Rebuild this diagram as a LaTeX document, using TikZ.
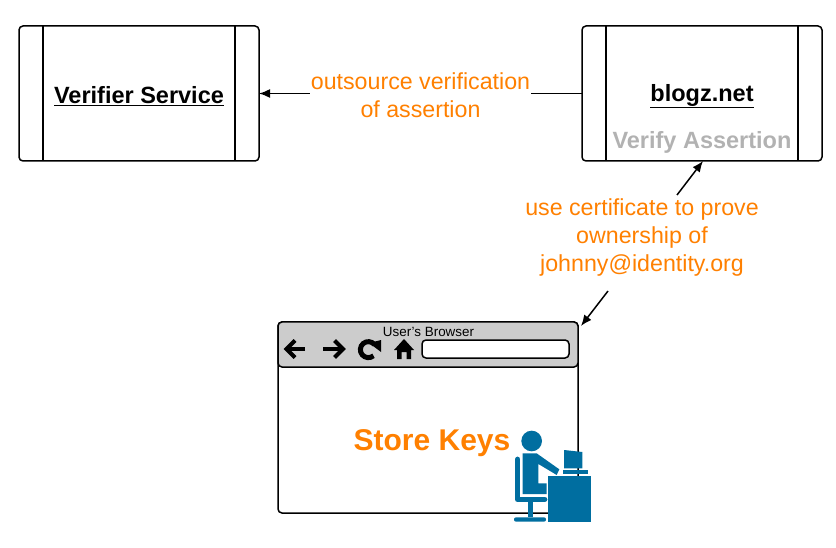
\documentclass[tikz,border=0pt]{standalone}
\usepackage{fontspec}
\setmainfont{Liberation Sans}
\usetikzlibrary{positioning}
\usetikzlibrary{arrows.meta}
\definecolor{labelorange}{HTML}{FF8000}
\definecolor{toolgray}{HTML}{CCCCCC}
\definecolor{iconblue}{HTML}{006EA0}
\tikzset{
  procbox/.style={draw, line width=1.5pt, rounded corners=4pt, minimum width=240pt, minimum height=135pt, inner sep=0pt, outer sep=0pt},
  divider/.style={line width=1.5pt},
  link/.style={-{Latex[length=11pt,width=9pt]}, line width=1.5pt},
  note/.style={text=labelorange, fill=white, font=\fontsize{23.2}{28}\selectfont, align=center, inner xsep=0.5pt, inner ysep=2pt},
  boxtitle/.style={font=\fontsize{23.5}{26}\selectfont\bfseries},
  navicon/.style={line width=4pt, miter limit=10}
}
\begin{document}
\begin{tikzpicture}[x=1pt,y=-1pt]
\useasboundingbox (0,0) rectangle (836,548);
% service boxes
\node[procbox] (verifier) at (139,93.5) {};
\draw[divider] (43,26)--(43,161);
\draw[divider] (235,26)--(235,161);
\node[boxtitle] (verifiertitle) at (139,96) {\underline{Verifier Service}};
\node[procbox] (blogz) at (702,93.5) {};
\draw[divider] (606,26)--(606,161);
\draw[divider] (798,26)--(798,161);
\node[boxtitle] (blogztitle) at (702,96) {\underline{blogz.net}};
\node[boxtitle, text=black!30] (verify) at (702,142) {Verify Assertion};
% browser
\node[procbox, minimum width=300pt, minimum height=191pt] (browser) at (428,417.5) {};
\fill[toolgray, draw=black, line width=1.5pt, rounded corners=4pt] (278,367)--(278,322)--(578,322)--(578,367)--cycle;
\node[font=\fontsize{13.4}{14}\selectfont] (browsertitle) at (428.5,332) {User's Browser};
\node[draw, line width=1.5pt, fill=white, rounded corners=4pt, minimum width=147pt, minimum height=18pt, inner sep=0pt] (urlbar) at (495.5,349) {};
% toolbar icons
\draw[navicon] (305,349)--(287,349);
\draw[navicon] (295,340.5)--(286.5,349)--(295,357.5);
\draw[navicon] (323,349)--(342,349);
\draw[navicon] (334.5,340.5)--(343,349)--(334.5,357.5);
\draw[line width=5pt] (374.5,344.5) arc (-40:-310:8);
\fill (381,340)--(381,352)--(369,343)--cycle;
\fill (404,339)--(414,350)--(411,350)--(411,359)--(406.5,359)--(406.5,352)--(401.5,352)--(401.5,359)--(397,359)--(397,350)--(394,350)--cycle;
\node[font=\fontsize{30}{32}\selectfont\bfseries, text=labelorange] (storekeys) at (432,443) {Store Keys};
% person at desk
\begin{scope}[shift={(500,420)}, x=1/3*1pt, y=-1/3*1pt, iconblue]
\fill (95,63) circle(31);
\fill (68,100)--(110,100)--(178,148)--(170,165)--(115,132)--(115,190)--(140,190)--(140,222)--(68,222)--cycle;
\draw[line width=5.5pt, line cap=round, line join=round] (53,118)--(53,238)--(134,238);
\fill (83,245) rectangle (98,292);
\fill[rounded corners=2pt] (42,292) rectangle (138,305);
\fill (145,167) rectangle (272,305);
\fill (192,90)--(247,96)--(247,145)--(192,145)--cycle;
\fill (190,150) rectangle (263,163);
\end{scope}
% connectors
\coordinate (browsercorner) at (581,326);
\coordinate (blogzbottom) at (703,161);
\coordinate (certtop) at (677,195);
\coordinate (certbottom) at (608,291);
\draw[link] (blogz.west)--(verifier.east);
\draw[link] (certtop)--(blogzbottom);
\draw[link] (certbottom)--(browsercorner);
\node[note] (outsource) at (420.5,95) {outsource verification\\of assertion};
\node[note] (certificate) at (642,238) {use certificate to prove\\ownership of\\johnny@identity.org};
\end{tikzpicture}
\end{document}
